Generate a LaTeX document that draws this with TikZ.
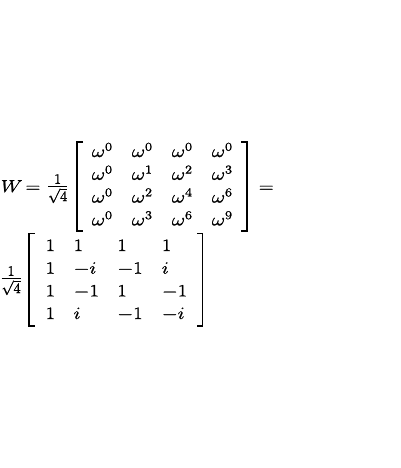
\documentclass[tikz,border=0pt]{standalone}
\usepackage{amssymb}
\usepackage{amsmath}
\usepackage{xcolor}

\newcommand{\wx}[1]{\special{pdf:literal direct 2 Tr 0.2 w}\scalebox{1.18}[1]{#1}\special{pdf:literal direct 0 Tr}}
\newcommand{\fr}{\special{pdf:literal direct 2 Tr 0.2 w}{\fontsize{20.5}{24}\selectfont$\frac{1}{\sqrt{4}}$}\special{pdf:literal direct 0 Tr}}

\begin{document}
\begin{tikzpicture}[x=1pt, y=-1pt, every node/.style={inner sep=0pt, anchor=base west, font=\fontsize{18}{22}\selectfont}, bracket/.style={line width=1.7pt}, thick,]
                    \useasboundingbox (0,0) rectangle (400,468);

                    % first line
                    \node (w) at (0.5,192) {\wx{$W$}};
                    \node (e1) at (25.2,192) {\wx{$=$}};
                    \node (f1) at (46.5,192) {\fr};

                    \node (a11) at (91.5,157) {\wx{$\omega^0$}};
                    \node (a12) at (131.5,157) {\wx{$\omega^0$}};
                    \node (a13) at (171.5,157) {\wx{$\omega^0$}};
                    \node (a14) at (211.5,157) {\wx{$\omega^0$}};

                    \node (a21) at (91.5,179.8) {\wx{$\omega^0$}};
                    \node (a22) at (131.5,179.8) {\wx{$\omega^1$}};
                    \node (a23) at (171.5,179.8) {\wx{$\omega^2$}};
                    \node (a24) at (211.5,179.8) {\wx{$\omega^3$}};

                    \node (a31) at (91.5,202.6) {\wx{$\omega^0$}};
                    \node (a32) at (131.5,202.6) {\wx{$\omega^2$}};
                    \node (a33) at (171.5,202.6) {\wx{$\omega^4$}};
                    \node (a34) at (211.5,202.6) {\wx{$\omega^6$}};

                    \node (a41) at (91.5,225.4) {\wx{$\omega^0$}};
                    \node (a42) at (131.5,225.4) {\wx{$\omega^3$}};
                    \node (a43) at (171.5,225.4) {\wx{$\omega^6$}};
                    \node (a44) at (211.5,225.4) {\wx{$\omega^9$}};

                    \node (e2) at (258.5,192) {\wx{$=$}};

                    \draw[bracket] (83,142) -- (77,142) -- (77,230.7) -- (83,230.7);
                    \draw[bracket] (241,142) -- (247.3,142) -- (247.3,230.7) -- (241,230.7);

                    % second line
                    \node (f2) at (0,284) {\fr};

                    \node (b11) at (45.3,251) {\wx{$1$}};
                    \node (b12) at (73.3,251) {\wx{$1$}};
                    \node (b13) at (117,251) {\wx{$1$}};
                    \node (b14) at (161.5,251) {\wx{$1$}};

                    \node (b21) at (45.3,273.7) {\wx{$1$}};
                    \node (b22) at (73.3,273.7) {\wx{$-i$}};
                    \node (b23) at (117,273.7) {\wx{$-1$}};
                    \node (b24) at (161.5,273.7) {\wx{$i$}};

                    \node (b31) at (45.3,296.4) {\wx{$1$}};
                    \node (b32) at (73.3,296.4) {\wx{$-1$}};
                    \node (b33) at (117,296.4) {\wx{$1$}};
                    \node (b34) at (161.5,296.4) {\wx{$-1$}};

                    \node (b41) at (45.3,319) {\wx{$1$}};
                    \node (b42) at (73.3,319) {\wx{$i$}};
                    \node (b43) at (117,319) {\wx{$-1$}};
                    \node (b44) at (161.5,319) {\wx{$-i$}};

                    \draw[bracket] (34.5,233.5) -- (29.2,233.5) -- (29.2,325.7) -- (34.5,325.7);
                    \draw[bracket] (197,233.5) -- (202.5,233.5) -- (202.5,325.7) -- (197,325.7);

                \end{tikzpicture}
\end{document}
